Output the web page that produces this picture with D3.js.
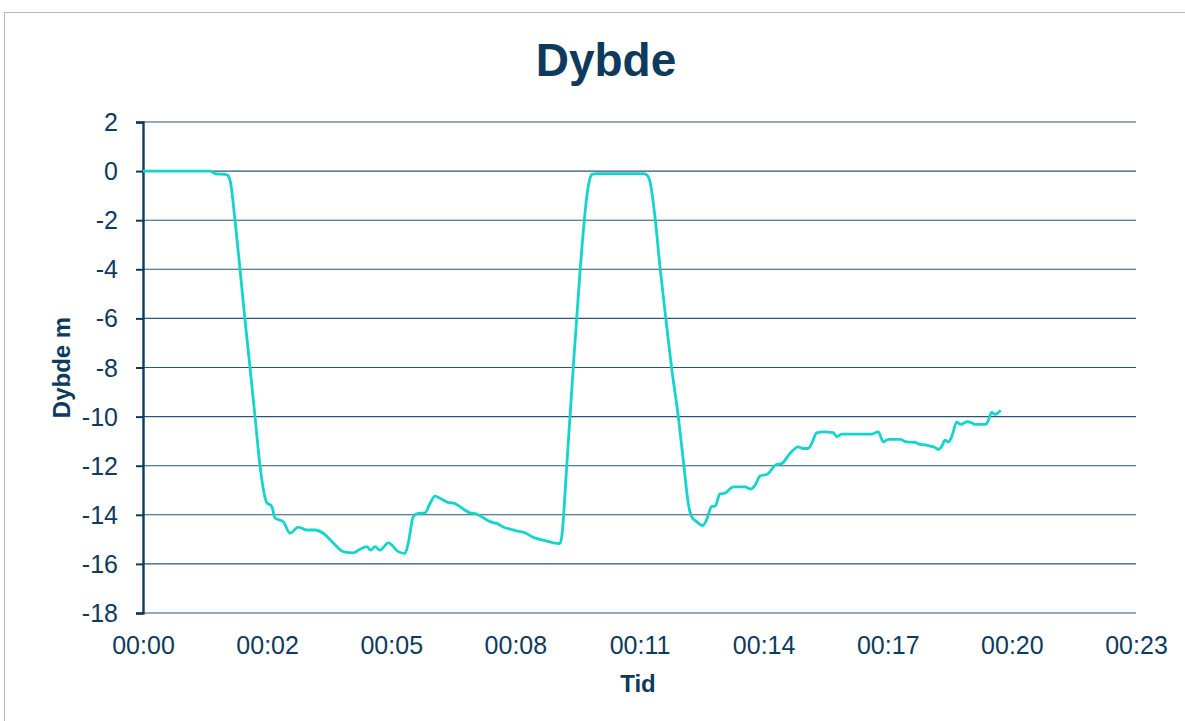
<!DOCTYPE html>
<html>
<head>
<meta charset="utf-8">
<script src="https://cdn.jsdelivr.net/npm/d3@7"></script>
<style>
  html, body { margin: 0; padding: 0; background: #ffffff; }
  svg { display: block; }
</style>
</head>
<body>
<svg id="chart" width="1185" height="721"></svg>
<script>
// Dive log: elapsed time (minutes) and depth (metres)
const timeMin = [
  0.00, 1.555, 1.671, 1.949, 2.019, 2.135, 2.251, 2.367, 2.483, 2.599, 2.715, 2.807, 2.870, 2.986,
  3.063, 3.255, 3.411, 3.603, 3.798, 3.991, 4.183, 4.415, 4.647, 4.879, 5.035, 5.190, 5.283, 5.383,
  5.499, 5.691, 5.923, 6.079, 6.155, 6.271, 6.381, 6.543, 6.659, 6.775, 6.891, 7.084, 7.200, 7.587,
  7.742, 8.051, 8.206, 8.399, 8.555, 8.671, 8.863, 9.056, 9.211, 9.367, 9.520, 9.675, 9.715, 9.831,
  9.984, 10.140, 10.300, 10.370, 10.430, 10.527, 11.608, 11.687, 11.763, 11.879, 11.995, 12.135,
  12.267, 12.420, 12.552, 12.652, 12.731, 12.847, 12.986, 13.079, 13.195, 13.271, 13.387, 13.503,
  13.696, 13.968, 14.100, 14.200, 14.316, 14.485, 14.687, 14.819, 15.012, 15.204, 15.320, 15.436,
  15.515, 15.631, 15.784, 16.016, 16.095, 16.211, 16.907, 17.060, 17.176, 17.292, 17.564, 17.719,
  17.912, 18.028, 18.183, 18.260, 18.376, 18.452, 18.531, 18.608, 18.685, 18.763, 18.879, 18.979,
  19.111, 19.227, 19.304, 19.559, 19.613, 19.691, 19.768, 19.900
];
const depthM = [
  0, 0, -0.1, -0.15, -0.37, -2.0, -4.0, -6.07, -8.0, -10.0, -12.0, -13.1, -13.5, -13.65,
  -14.13, -14.28, -14.75, -14.5, -14.62, -14.62, -14.75, -15.15, -15.5, -15.55, -15.4, -15.3, -15.44, -15.3,
  -15.44, -15.14, -15.5, -15.57, -15.15, -14.08, -13.94, -13.92, -13.54, -13.24, -13.33, -13.5, -13.52, -13.92,
  -13.97, -14.28, -14.35, -14.53, -14.6, -14.66, -14.73, -14.92, -15.0, -15.07, -15.14, -15.17, -14.9, -12.04,
  -7.97, -4.1, -1.0, -0.3, -0.12, -0.1, -0.1, -0.15, -0.43, -1.86, -3.9, -6.07,
  -8.04, -10.0, -12.04, -13.54, -14.08, -14.28, -14.44, -14.2, -13.66, -13.66, -13.15, -13.12,
  -12.86, -12.86, -12.95, -12.8, -12.42, -12.35, -11.96, -11.91, -11.5, -11.23, -11.3, -11.3,
  -11.1, -10.66, -10.62, -10.65, -10.82, -10.71, -10.71, -10.62, -11.03, -10.93, -10.93, -11.03,
  -11.05, -11.13, -11.16, -11.2, -11.26, -11.34, -11.22, -10.96, -11.03, -10.82, -10.23, -10.32,
  -10.21, -10.25, -10.32, -10.32, -10.15, -9.83, -9.91, -9.74
];

// Axis ticks: time axis steps of 0.002 day (2.88 min), depth every 2 m
const xTickMinutes = [0, 2.88, 5.76, 8.64, 11.52, 14.4, 17.28, 20.16, 23.04];
const yTickValues = [2, 0, -2, -4, -6, -8, -10, -12, -14, -16, -18];

const titleText = "Dybde";
const xAxisTitle = "Tid";
const yAxisTitle = "Dybde m";

const navy = "#0e3a5e";
const gridColor = "#2a5479";
const lineColor = "#14d4cb";

const margin = { left: 143, right: 1136, top: 122, bottom: 613 };

const svg = d3.select("#chart");

// outer chart frame
svg.append("rect")
  .attr("x", 4.5).attr("y", 12.5)
  .attr("width", 1200).attr("height", 730)
  .attr("fill", "none")
  .attr("stroke", "#b3b7bf")
  .attr("stroke-width", 1);

const x = d3.scaleLinear().domain([0, 23.04]).range([margin.left, margin.right]);
const y = d3.scaleLinear().domain([-18, 2]).range([margin.bottom, margin.top]);

const fmtTime = m => "00:" + String(Math.floor(m + 1e-9)).padStart(2, "0");

// horizontal gridlines
svg.append("g")
  .selectAll("line")
  .data(yTickValues)
  .join("line")
  .attr("x1", margin.left).attr("x2", margin.right)
  .attr("y1", d => y(d)).attr("y2", d => y(d))
  .attr("stroke", gridColor)
  .attr("stroke-width", 1.1);

// y axis
const yAxis = svg.append("g")
  .attr("transform", `translate(${margin.left},0)`)
  .call(d3.axisLeft(y).tickValues(yTickValues).tickSize(7).tickPadding(18).tickFormat(d3.format("d")));
yAxis.select(".domain").attr("stroke", navy).attr("stroke-width", 2.4);
yAxis.selectAll(".tick line").attr("stroke", navy).attr("stroke-width", 2);
yAxis.selectAll(".tick text")
  .attr("fill", navy)
  .attr("font-family", "'Liberation Sans', Arial, sans-serif")
  .attr("font-size", 25)
  .attr("dy", "0.34em")
  .text(d => d < 0 ? "-" + Math.abs(d) : String(d));

// x axis labels (no tick marks)
const xAxis = svg.append("g")
  .attr("transform", `translate(0,${margin.bottom})`)
  .call(d3.axisBottom(x).tickValues(xTickMinutes).tickSize(0).tickPadding(23).tickFormat(fmtTime));
xAxis.select(".domain").remove();
xAxis.selectAll(".tick text")
  .attr("fill", navy)
  .attr("font-family", "'Liberation Sans', Arial, sans-serif")
  .attr("font-size", 25);

// depth line
const data = timeMin.map((t, i) => ({ t, d: depthM[i] }));
svg.append("path")
  .datum(data)
  .attr("fill", "none")
  .attr("stroke", lineColor)
  .attr("stroke-width", 2.8)
  .attr("stroke-linejoin", "round")
  .attr("d", d3.line().x(p => x(p.t)).y(p => y(p.d)).curve(d3.curveMonotoneX));

// titles
svg.append("text")
  .attr("x", 606).attr("y", 76)
  .attr("text-anchor", "middle")
  .attr("font-family", "'Liberation Sans', Arial, sans-serif")
  .attr("font-weight", "bold")
  .attr("font-size", 46)
  .attr("fill", navy)
  .text(titleText);

svg.append("text")
  .attr("x", 638).attr("y", 692)
  .attr("text-anchor", "middle")
  .attr("font-family", "'Liberation Sans', Arial, sans-serif")
  .attr("font-weight", "bold")
  .attr("font-size", 24)
  .attr("fill", navy)
  .text(xAxisTitle);

svg.append("text")
  .attr("transform", `translate(70,${(margin.top + margin.bottom) / 2}) rotate(-90)`)
  .attr("text-anchor", "middle")
  .attr("font-family", "'Liberation Sans', Arial, sans-serif")
  .attr("font-weight", "bold")
  .attr("font-size", 24)
  .attr("fill", navy)
  .text(yAxisTitle);
</script>
</body>
</html>
